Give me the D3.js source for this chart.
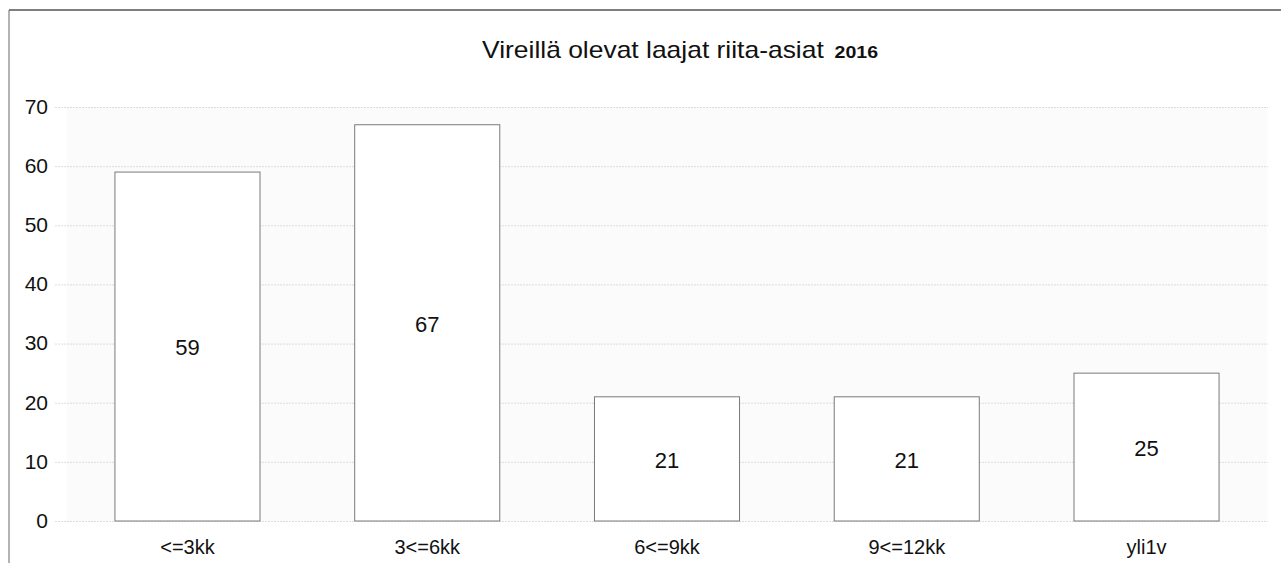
<!DOCTYPE html>
<html>
<head>
<meta charset="utf-8">
<script src="https://cdn.jsdelivr.net/npm/d3@7"></script>
<style>
  body { margin: 0; background: #fff; }
  svg { display: block; font-family: "Liberation Sans", Arial, sans-serif; }
  .grid line { stroke: #dcdcdc; stroke-dasharray: 2,1; }
  .grid .domain { display: none; }
  .axis text { fill: #111; }
  .axis line, .axis .domain { display: none; }
</style>
</head>
<body>
<div class="chart"></div>
<script>
var categories = ["<=3kk", "3<=6kk", "6<=9kk", "9<=12kk", "yli1v"];
var values = [59, 67, 21, 21, 25];
var yTicks = [0, 10, 20, 30, 40, 50, 60, 70];

var width = 1281, height = 563;
var svg = d3.select(".chart").append("svg")
  .attr("width", width)
  .attr("height", height);

// outer frame (top + left only, the rest is cut off in the scan)
svg.append("line")
  .attr("x1", 9).attr("y1", 10).attr("x2", width).attr("y2", 10)
  .attr("stroke", "#555").attr("stroke-width", 1.5);
svg.append("line")
  .attr("x1", 9).attr("y1", 10).attr("x2", 9).attr("y2", height)
  .attr("stroke", "#666").attr("stroke-width", 1);

var x = d3.scaleBand()
  .domain(categories)
  .range([67, 1267])
  .paddingInner(0.395)
  .paddingOuter(0.2);

var y = d3.scaleLinear()
  .domain([0, 70])
  .range([521, 107]);

// faint plot background like the scan
svg.append("rect")
  .attr("x", 67).attr("y", y(70))
  .attr("width", 1200).attr("height", y(0) - y(70))
  .attr("fill", "#fbfbfb");

svg.append("g")
  .attr("class", "grid")
  .attr("transform", "translate(55,0)")
  .call(d3.axisLeft(y).tickValues(yTicks).tickSize(0).tickFormat(""))
  .selectAll("line").attr("x2", 1268 - 55);

var yAxis = svg.append("g")
  .attr("class", "axis")
  .attr("transform", "translate(48,0)")
  .call(d3.axisLeft(y).tickValues(yTicks).tickSize(0).tickPadding(0));
yAxis.selectAll("text").attr("font-size", "21px").attr("dy", "0.3em");

var xAxis = svg.append("g")
  .attr("class", "axis")
  .attr("transform", "translate(0," + y(0) + ")")
  .call(d3.axisBottom(x).tickSize(0).tickPadding(19));
xAxis.selectAll("text").attr("font-size", "20px");

svg.selectAll(".bar")
  .data(values)
  .enter().append("rect")
  .attr("class", "bar")
  .attr("x", function(d, i) { return x(categories[i]); })
  .attr("y", function(d) { return y(d); })
  .attr("width", x.bandwidth())
  .attr("height", function(d) { return y(0) - y(d); })
  .attr("fill", "#fff")
  .attr("stroke", "#7a7a7a")
  .attr("stroke-width", 1);

svg.selectAll(".val")
  .data(values)
  .enter().append("text")
  .attr("class", "val")
  .attr("x", function(d, i) { return x(categories[i]) + x.bandwidth() / 2; })
  .attr("y", function(d) { return (y(d) + y(0)) / 2 + 1; })
  .attr("dy", "0.35em")
  .attr("text-anchor", "middle")
  .attr("font-size", "22px")
  .attr("fill", "#111")
  .text(function(d) { return d; });

// title is a bit stretched horizontally in the original
var title = svg.append("text")
  .attr("transform", "translate(680,58) scale(1.15,1)")
  .attr("text-anchor", "middle")
  .attr("fill", "#111");
title.append("tspan")
  .attr("font-size", "23px")
  .text("Vireillä olevat laajat riita-asiat ");
title.append("tspan")
  .attr("font-size", "17px")
  .attr("font-weight", "bold")
  .attr("dx", "3")
  .text("2016");
</script>
</body>
</html>
